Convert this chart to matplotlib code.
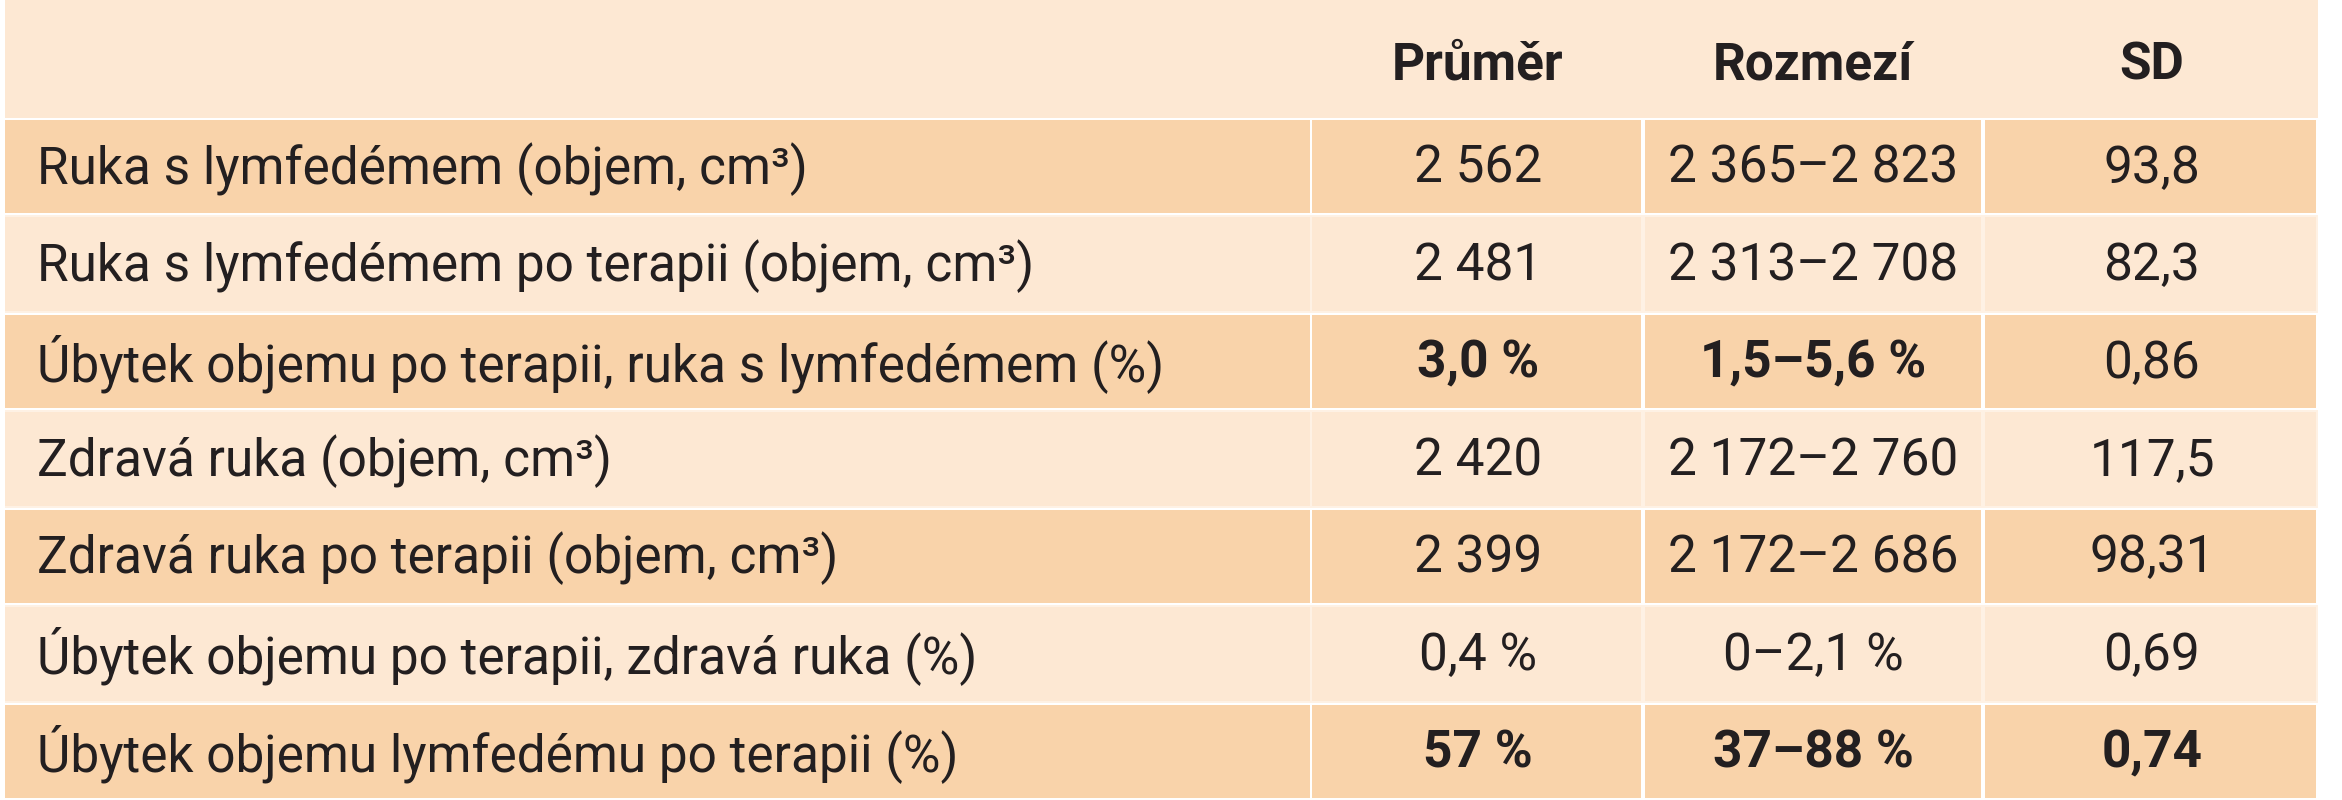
import matplotlib
matplotlib.use("Agg")
import matplotlib.pyplot as plt
from matplotlib.patches import Rectangle

headers = ["Průměr", "Rozmezí", "SD"]
labels = [
    "Ruka s lymfedémem (objem, cm³)",
    "Ruka s lymfedémem po terapii (objem, cm³)",
    "Úbytek objemu po terapii, ruka s lymfedémem (%)",
    "Zdravá ruka (objem, cm³)",
    "Zdravá ruka po terapii (objem, cm³)",
    "Úbytek objemu po terapii, zdravá ruka (%)",
    "Úbytek objemu lymfedému po terapii (%)",
]
prumer = ["2 562", "2 481", "3,0 %", "2 420", "2 399", "0,4 %", "57 %"]
rozmezi = ["2 365–2 823", "2 313–2 708", "1,5–5,6 %", "2 172–2 760", "2 172–2 686", "0–2,1 %", "37–88 %"]
sd = ["93,8", "82,3", "0,86", "117,5", "98,31", "0,69", "0,74"]
bold = [[False]*3, [False]*3, [True, True, False], [False]*3, [False]*3, [False]*3, [True]*3]

fam = ["Roboto", "DejaVu Sans"]
DARK = "#f9d3aa"
LIGHT = "#fde8d3"
SEP_LIGHT = "#fef1e4"
TXT = "#231f20"
FS = 37

fig = plt.figure(figsize=(23.42, 8), dpi=100)
ax = fig.add_axes([0, 0, 1, 1])
ax.set_xlim(0, 2342)
ax.set_ylim(800, 0)
ax.axis("off")

xs = [5, 1310, 1643, 1983, 2318]
ax.add_patch(Rectangle((xs[0], 0), xs[-1]-xs[0], 118, color=LIGHT, lw=0))
col_centers = [1478, 1813, 2152]
for h, cx in zip(headers, col_centers):
    ax.text(cx, 66, h, ha="center", va="center", fontsize=FS, fontweight="bold",
            color=TXT, family=fam)

y = 118
rh = (800 - 118) / 7
gap = 4
for i, lab in enumerate(labels):
    col = DARK if i % 2 == 0 else LIGHT
    bg = "white" if i % 2 == 0 else SEP_LIGHT
    ax.add_patch(Rectangle((xs[0], y), xs[-1]-xs[0], rh, color=bg, lw=0))
    for c in range(4):
        ax.add_patch(Rectangle((xs[c] + (0 if c == 0 else gap/2), y + gap/2),
                               xs[c+1] - xs[c] - (0 if c == 0 else gap), rh - gap,
                               color=col, lw=0))
    yc = y + rh/2 + 2
    ax.text(37, yc, lab, ha="left", va="center", fontsize=FS, color=TXT, family=fam)
    for j, vals in enumerate([prumer, rozmezi, sd]):
        ax.text(col_centers[j], yc, vals[i], ha="center", va="center", fontsize=FS,
                color=TXT, family=fam, fontweight="bold" if bold[i][j] else "normal")
    y += rh

fig.savefig("out.png", dpi=100, facecolor="white")
